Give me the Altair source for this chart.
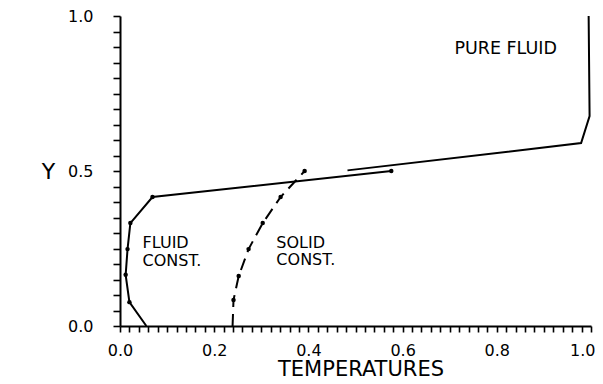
import altair as alt
import pandas as pd

# ---- data ----
fluid_x = [0.056, 0.020, 0.012, 0.016, 0.022, 0.069, 0.576]
fluid_y = [0.000, 0.077, 0.165, 0.248, 0.332, 0.416, 0.500]

solid_x = [0.239, 0.241, 0.252, 0.273, 0.303, 0.341, 0.392]
solid_y = [0.000, 0.084, 0.161, 0.248, 0.332, 0.416, 0.500]

pure_x = [0.483, 0.979, 0.997, 0.995]
pure_y = [0.502, 0.590, 0.677, 1.000]

title_text = ["PURE FLUID"]
title_x = [0.710]
title_y = [0.877]

label_text = ["FLUID", "CONST.", "SOLID", "CONST."]
label_x = [0.048, 0.048, 0.332, 0.332]
label_y = [0.252, 0.194, 0.252, 0.197]

x_ticks = [round(i * 0.02, 2) for i in range(51)]
y_ticks = [round(i * 0.05, 2) for i in range(21)]

FONT = "DejaVu Sans"

fluid = pd.DataFrame({"x": fluid_x, "y": fluid_y, "i": range(len(fluid_x))})
solid = pd.DataFrame({"x": solid_x, "y": solid_y, "i": range(len(solid_x))})
pure = pd.DataFrame({"x": pure_x, "y": pure_y, "i": range(len(pure_x))})
labels = pd.DataFrame({"x": label_x, "y": label_y, "t": label_text})
titles = pd.DataFrame({"x": title_x, "y": title_y, "t": title_text})

xscale = alt.Scale(domain=[0, 1], nice=False, zero=False)
yscale = alt.Scale(domain=[0, 1], nice=False, zero=False)

xaxis = alt.Axis(
    values=x_ticks,
    tickCount=200,
    labelExpr="abs(datum.value*5 - round(datum.value*5)) < 0.001 ? format(datum.value, '.1f') : ''",
    labelOverlap=False,
    labelFlush=False,
    labelAlign={"condition": {"test": "datum.value > 0.99", "value": "right"}, "value": "center"},
    labelOffset={"condition": {"test": "datum.value > 0.99", "value": 4}, "value": 0},
    tickSize=6,
    labelPadding=10,
    title="TEMPERATURES",
    titleFontSize=21,
    titleFontWeight="normal",
    titleX=240.5,
    titleY=49,
    titleAlign="center",
    titleBaseline="alphabetic",
)
yaxis = alt.Axis(
    values=y_ticks,
    tickCount=200,
    labelExpr="abs(datum.value*2 - round(datum.value*2)) < 0.001 ? format(datum.value, '.1f') : ''",
    labelOverlap=False,
    labelFlush=False,
    tickSize=7,
    labelPadding=20,
    title="Y",
    titleAngle=0,
    titleFontSize=22,
    titleFontWeight="normal",
    titleX=-72,
    titleY=155,
    titleAlign="center",
    titleBaseline="middle",
)

fluid_line = alt.Chart(fluid).mark_line(color="black", strokeWidth=2).encode(
    x=alt.X("x:Q", scale=xscale, axis=xaxis),
    y=alt.Y("y:Q", scale=yscale, axis=yaxis),
    order="i:Q",
)
fluid_pts = alt.Chart(fluid).mark_point(filled=True, color="black", size=20, opacity=1).encode(
    x="x:Q", y="y:Q"
).transform_filter("datum.y > 0")

solid_line = alt.Chart(solid).mark_line(color="black", strokeWidth=2, strokeDash=[12, 7]).encode(
    x="x:Q", y="y:Q", order="i:Q"
)
solid_pts = alt.Chart(solid).mark_point(filled=True, color="black", size=20, opacity=1).encode(
    x="x:Q", y="y:Q"
).transform_filter("datum.y > 0")

pure_line = alt.Chart(pure).mark_line(color="black", strokeWidth=2).encode(
    x="x:Q", y="y:Q", order="i:Q"
)

text = alt.Chart(labels).mark_text(
    align="left", baseline="alphabetic", font=FONT, fontSize=16, color="black"
).encode(x="x:Q", y="y:Q", text="t:N")

text2 = alt.Chart(titles).mark_text(
    align="left", baseline="alphabetic", font=FONT, fontSize=17.5, color="black"
).encode(x="x:Q", y="y:Q", text="t:N")

chart = alt.layer(fluid_line, fluid_pts, solid_line, solid_pts, pure_line, text, text2).properties(
    width=471,
    height=310,
    autosize=alt.AutoSizeParams(type="none"),
    padding={"left": 112, "top": 8, "right": 4, "bottom": 50},
    background="white",
).configure_view(stroke=None).configure_axis(
    grid=False,
    domainColor="black",
    domainWidth=2,
    tickColor="black",
    tickWidth=1.6,
    labelFont=FONT,
    labelFontSize=16,
    labelColor="black",
    titleFont=FONT,
    titleColor="black",
)

chart.save("out.html", embed_options={"renderer": "svg", "actions": False})
